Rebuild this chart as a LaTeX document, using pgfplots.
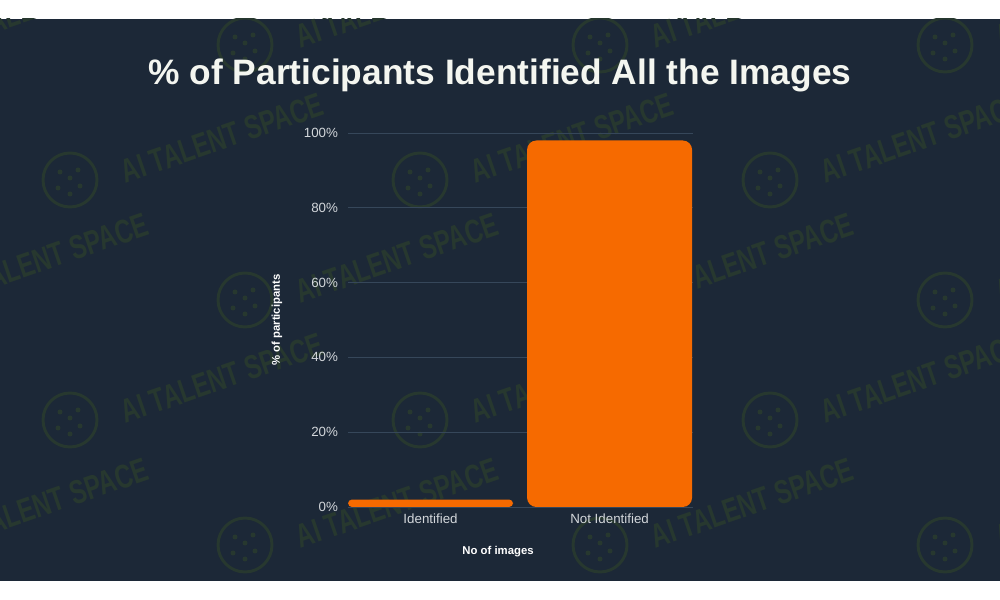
\documentclass[border=0pt]{standalone}
\usepackage{fontspec}
\setmainfont{Liberation Sans}
\newfontfamily\wmfont{Liberation Sans}[FakeStretch=0.72]
\usepackage{pgfplots}
\pgfplotsset{compat=1.18}

\definecolor{bgdark}{HTML}{1C2837}
\definecolor{barorange}{HTML}{F66A00}
\definecolor{gridc}{HTML}{36475A}
\definecolor{ticktext}{HTML}{D3D7DB}
\definecolor{titlec}{HTML}{F4F6F0}
\definecolor{wm}{HTML}{27382F}

\begin{document}
\begin{tikzpicture}
\useasboundingbox (0,0) rectangle (750pt,450pt);
\fill[white] (0,0) rectangle (750pt,450pt);
\fill[bgdark] (0,14.25pt) rectangle (750pt,435.75pt);

% watermark, in pixel units of the 1000x600 picture
\begin{scope}
  \clip (0,14.25pt) rectangle (750pt,435.75pt);
  \begin{scope}[x=0.75pt,y=-0.75pt,yshift=450pt]
    \foreach \lx/\ly in {-105/45,245/45,600/45,945/45,
                         70/180,420/180,770/180,
                         -105/300,245/300,600/300,945/300,
                         70/420,420/420,770/420,
                         -105/545,245/545,600/545,945/545}{
      \node[text=wm, font=\wmfont\bfseries\fontsize{25}{25}\selectfont, rotate=19]
        at (\lx+152,\ly-42) {AI TALENT SPACE};
      \draw[wm, line width=2.2pt] (\lx,\ly) circle[radius=27];
      \foreach \dx/\dy in {-10/-8,8/-10,-12/8,10/6,0/14,0/-2}
        \fill[wm] (\lx+\dx,\ly+\dy) circle[radius=2.5];
    }
  \end{scope}
\end{scope}

\node[font=\bfseries\fontsize{26.5}{30}\selectfont, text=titlec]
  at (375pt,393.75pt) {\% of Participants Identified All the Images};

\begin{axis}[
    at={(261pt,69.75pt)}, anchor=south west,
    scale only axis, width=258.75pt, height=280.5pt,
    xmin=-0.461, xmax=1.466, ymin=0, ymax=100,
    xtick={0,1}, xticklabels={Identified, Not Identified},
    ytick={0,20,...,100},
    yticklabel={\pgfmathprintnumber{\tick}\%},
    /pgf/number format/assume math mode=true,
    axis line style={draw=none},
    major tick length=0pt,
    ymajorgrids, grid style={gridc, line width=0.6pt},
    tick label style={font=\fontsize{10}{12}\selectfont, text=ticktext},
    yticklabel style={xshift=-4pt},
    xticklabel style={yshift=-1.5pt},
    xlabel={No of images}, ylabel={\% of participants},
    label style={font=\bfseries\fontsize{8.5}{10}\selectfont, text=white},
    xlabel style={at={(axis description cs:0.435,-0.118)}, anchor=center},
    ylabel style={at={(axis description cs:-0.206,0.5)}, anchor=center},
    ybar, bar width=123.75pt,
  ]
  \addplot[fill=barorange, draw=none, rounded corners=3pt, bar shift=0pt]
    coordinates {(0,2)};
  \addplot[fill=barorange, draw=none, rounded corners=7pt, bar shift=0pt]
    coordinates {(1,98)};
\end{axis}
\end{tikzpicture}
\end{document}
